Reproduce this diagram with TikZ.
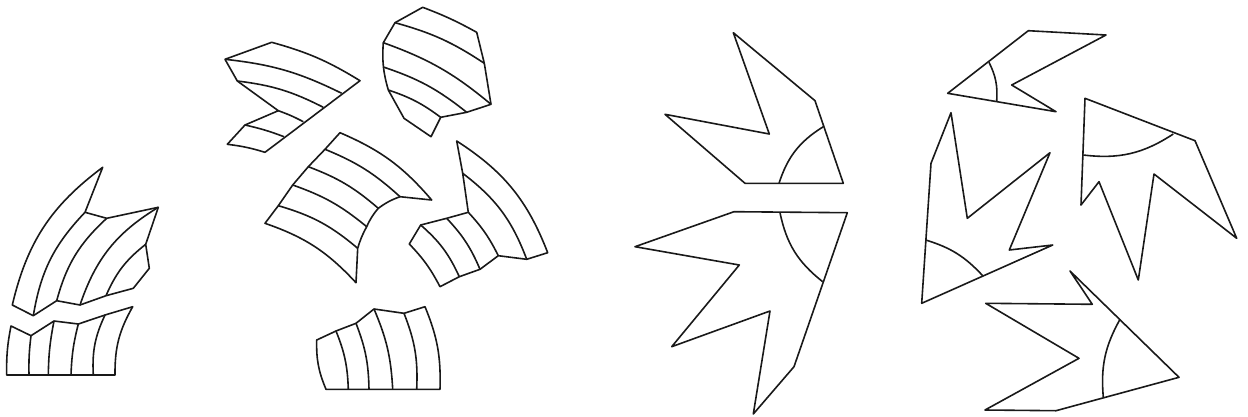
\documentclass[tikz,border=0pt]{standalone}
\tikzset{
  piece/.style={
    draw=black!90,
    line width=1.6pt,
    line join=round
  },
  band/.style={
    piece
  }
}
\begin{document}
\begin{tikzpicture}[x=1pt,y=-1pt]
  \useasboundingbox (0,0) rectangle (1248,416);

  % fan lower left
  \draw[piece] (12.3,305) to[bend left=20] (102.7,167.3) -- (85,212.3) -- (106.7,218.3) -- (158.3,207.3) -- (145.7,244.3) -- (149.3,268.3) -- (133.3,288.3) -- (106,295.7) -- (80,305) -- (56.7,300.7) -- (33.3,315.7) -- cycle;
  \draw[band] (33.3,315.7) to[bend left=17] (85,212.3);
  \draw[band] (56.7,300.7) to[bend left=16] (106.7,218.3);
  \draw[band] (80,305) to[bend left=20] (158.3,207.3);
  \draw[band] (106,295.7) to[bend left=14] (145.7,244.3);

  \draw[piece] (6.7,375) -- (115,375) to[bend left=15] (132.7,306.7) -- (105,315) -- (78.3,324) -- (54,321) -- (31,335.7) -- (11,326) to[bend right=6] cycle;
  \draw[band] (31,335.7) to[bend right=4] (29,375);
  \draw[band] (54,321) to[bend right=5] (48.3,375);
  \draw[band] (78.3,324) to[bend right=6] (71,375);
  \draw[band] (105,315) to[bend right=14] (93.3,375);

  % fan middle
  \draw[piece] (225,59.3) -- (271.7,42.3) to[bend left=8] (360,80.7) -- (265,152.3) to[bend right=5] (227.3,144.3) -- (245,125) -- (278.3,110.7) -- (237.3,81) -- cycle;
  \draw[band] (225,59.3) to[bend left=10] (341.7,93.3);
  \draw[band] (237.3,81) to[bend left=10] (323.3,107.3);
  \draw[band] (278.3,110.7) to[bend left=4] (303.3,121.7);
  \draw[band] (245,125) to[bend left=4] (284,136.7);

  \draw[piece] (422.7,7.3) to[bend left=4] (476.7,32.3) -- (484.3,63.3) -- (491,104.3) -- (466.7,112.3) -- (440.7,117.3) -- (431,136.7) -- (404,118.3) -- (388.3,90) to[bend left=10] (383.3,42.7) -- (395,22.7) -- cycle;
  \draw[band] (395,22.7) to[bend left=9] (484.3,63.3);
  \draw[band] (383.3,42.7) to[bend left=10] (491,104.3);
  \draw[band] (383.3,67) to[bend left=10] (466.7,112.3);
  \draw[band] (388.3,90) to[bend left=9] (440.7,117.3);

  \draw[piece] (340,132.7) to[bend left=13] (431.7,200) -- (400,196.7) to[bend right=8] (378.3,208.3) to[bend right=8] (366.7,226.7) to[bend right=6] (357.7,248.3) -- (356,282.7) to[bend right=14] (265,223.3) -- (278.3,205.7) -- (292.7,185) -- (308.3,166.7) -- (325,149.3) -- cycle;
  \draw[band] (325,149.3) to[bend left=10] (400,196.7);
  \draw[band] (308.3,166.7) to[bend left=10] (378.3,208.3);
  \draw[band] (292.7,185) to[bend left=10] (366.7,226.7);
  \draw[band] (278.3,205.7) to[bend left=12] (357.7,248.3);

  \draw[piece] (456.7,141) to[bend left=18] (547.7,252.7) -- (526.7,259.3) -- (498.3,255.7) -- (480,269.3) -- (459.3,276.7) -- (440,286.7) to[bend right=8] (409.3,244) -- (420.7,225) -- (446.7,218.3) -- (468.3,212.3) -- (462.7,173.3) -- cycle;
  \draw[band] (462.7,173.3) to[bend left=16] (526.7,259.3);
  \draw[band] (468.3,212.3) to[bend left=8] (498.3,255.7);
  \draw[band] (446.7,218.3) to[bend left=10] (480,269.3);
  \draw[band] (420.7,225) to[bend left=12] (459.3,276.7);

  \draw[piece] (326,389.3) -- (440,389.3) to[bend right=12] (425,306.7) -- (404,313.3) -- (374,309) -- (356,323.3) -- (336,331) -- (316.7,340) to[bend right=12] cycle;
  \draw[band] (336,331) to[bend left=10] (348.3,389.3);
  \draw[band] (356,323.3) to[bend left=10] (369,389.3);
  \draw[band] (374,309) to[bend left=10] (392.7,389.3);
  \draw[band] (404,313.3) to[bend left=12] (416.7,389.3);

  % darts
  \draw[piece] (733.3,32.7) -- (815,100.7) -- (843.3,183.3) -- (745,183.3) -- (665,114.3) -- (769.3,134) -- cycle;
  \draw[band] (779,183.3) to[bend left=20] (823.3,126.7);

  \draw[piece] (734,211.7) -- (847.3,212.7) -- (794,366.7) -- (753.3,414) -- (770,311) -- (671.7,346.7) -- (739.3,265) -- (635,246.7) -- cycle;
  \draw[band] (780,212.7) to[bend right=20] (822.7,281.7);

  \draw[piece] (1028.3,30.7) -- (1106,35) -- (1011.7,85) -- (1056,111.7) -- (947.7,93.3) -- cycle;
  \draw[band] (989,62.3) to[bend left=15] (996.7,101);

  \draw[piece] (1085,98.3) -- (1195,140.7) -- (1236.7,238.3) -- (1154,174) -- (1138.3,280) -- (1099,181.7) -- (1081,205) -- cycle;
  \draw[band] (1083.3,155) to[bend right=20] (1173.3,134);

  \draw[piece] (951,112.7) -- (967.3,218.3) -- (1050,152.7) -- (1009.3,250) -- (1052.7,245) -- (921.7,303.3) -- (931,163.3) -- cycle;
  \draw[band] (925.7,240) to[bend left=15] (982.7,275.7);

  \draw[piece] (1070,271) -- (1179,377.3) -- (1056,410.7) -- (985,410) -- (1079,358.3) -- (985.7,303.3) -- (1092.3,304.3) -- cycle;
  \draw[band] (1120,319.3) to[bend right=17] (1103.3,397.3);
\end{tikzpicture}
\end{document}
